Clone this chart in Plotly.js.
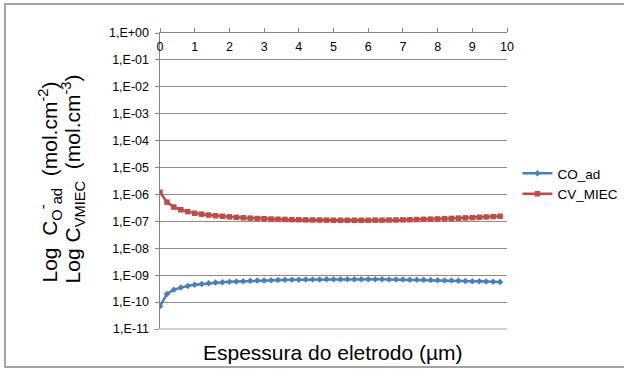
<!DOCTYPE html>
<html>
<head>
<meta charset="utf-8">
<script src="https://cdn.plot.ly/plotly-3.0.1.min.js"></script>
<style>html,body{margin:0;padding:0;background:#fff;}#chart{width:624px;height:369px;}</style>
</head>
<body>
<div id="chart"></div>
<script>
const thickness = [0,0.2,0.4,0.6,0.8,1.0,1.2,1.4,1.6,1.8,2.0,2.2,2.4,2.6,2.8,3.0,3.2,3.4,3.6,3.8,4.0,4.2,4.4,4.6,4.8,5.0,5.2,5.4,5.6,5.8,6.0,6.2,6.4,6.6,6.8,7.0,7.2,7.4,7.6,7.8,8.0,8.2,8.4,8.6,8.8,9.0,9.2,9.4,9.6,9.8];
const coAd = [7.0e-11,2.0e-10,2.9e-10,3.5e-10,4.0e-10,4.4e-10,4.7e-10,5.0e-10,5.3e-10,5.5e-10,5.7e-10,5.85e-10,6.0e-10,6.15e-10,6.3e-10,6.4e-10,6.5e-10,6.6e-10,6.7e-10,6.75e-10,6.8e-10,6.85e-10,6.9e-10,6.95e-10,7.0e-10,7.0e-10,7.05e-10,7.05e-10,7.05e-10,7.05e-10,7.0e-10,7.0e-10,7.0e-10,6.95e-10,6.9e-10,6.85e-10,6.8e-10,6.75e-10,6.7e-10,6.6e-10,6.5e-10,6.4e-10,6.3e-10,6.2e-10,6.1e-10,6.0e-10,5.9e-10,5.8e-10,5.7e-10,5.6e-10];
const cvMiec = [1.2e-6,5.2e-7,3.4e-7,2.7e-7,2.3e-7,2.0e-7,1.85e-7,1.72e-7,1.62e-7,1.54e-7,1.47e-7,1.41e-7,1.36e-7,1.32e-7,1.28e-7,1.25e-7,1.22e-7,1.2e-7,1.18e-7,1.16e-7,1.15e-7,1.14e-7,1.13e-7,1.12e-7,1.11e-7,1.1e-7,1.1e-7,1.1e-7,1.1e-7,1.1e-7,1.1e-7,1.11e-7,1.11e-7,1.12e-7,1.13e-7,1.14e-7,1.15e-7,1.17e-7,1.19e-7,1.21e-7,1.23e-7,1.26e-7,1.29e-7,1.32e-7,1.35e-7,1.38e-7,1.42e-7,1.46e-7,1.5e-7,1.55e-7];
const seriesNames = ['CO_ad','CV_MIEC'];
const yTickVals = [1e0,1e-1,1e-2,1e-3,1e-4,1e-5,1e-6,1e-7,1e-8,1e-9,1e-10,1e-11];
const yTickText = ['1,E+00','1,E-01','1,E-02','1,E-03','1,E-04','1,E-05','1,E-06','1,E-07','1,E-08','1,E-09','1,E-10','1,E-11'];
const xTickVals = [0,1,2,3,4,5,6,7,8,9,10];

const FONT = 'Liberation Sans, Arial, sans-serif';
const traces = [
  {x: thickness, y: coAd, name: seriesNames[0], type: 'scatter', mode: 'lines+markers',
   line: {color: '#4a7ebb', width: 2.5}, marker: {symbol: 'diamond', size: 5, color: '#4a7ebb'}},
  {x: thickness, y: cvMiec, name: seriesNames[1], type: 'scatter', mode: 'lines+markers',
   line: {color: '#be4b48', width: 2.5}, marker: {symbol: 'square', size: 5.5, color: '#be4b48'}}
];
const layout = {
  width: 624, height: 369,
  margin: {l: 160, r: 117, t: 33, b: 40, autoexpand: false},
  paper_bgcolor: '#ffffff', plot_bgcolor: '#ffffff',
  font: {family: FONT, size: 12, color: '#000'},
  showlegend: true,
  legend: {x: 1.03, y: 0.49, xanchor: 'left', yanchor: 'middle', font: {family: FONT, size: 13.5, color: '#000'}, bgcolor: 'rgba(0,0,0,0)', tracegroupgap: 0},
  xaxis: {range: [0, 10], side: 'top', tickvals: xTickVals, ticks: 'outside', ticklen: 4, tickcolor: '#868686',
          ticklabelposition: 'inside', ticklabeloverflow: 'allow', ticklabelstandoff: 9,
          showline: true, linecolor: '#868686', linewidth: 1.5, showgrid: false, zeroline: false,
          tickfont: {family: FONT, size: 12.5, color: '#000'}},
  yaxis: {type: 'log', range: [-11, 0], tickvals: yTickVals, ticktext: yTickText, ticks: 'outside', ticklen: 4, tickcolor: '#868686',
          ticklabeloverflow: 'allow', ticklabelstandoff: 3,
          showline: true, linecolor: '#868686', linewidth: 1.5, showgrid: true, gridcolor: '#8c8c8c', gridwidth: 1, zeroline: false,
          tickfont: {family: FONT, size: 12.5, color: '#000'}},
  annotations: [
    {xref: 'paper', yref: 'paper', x: -0.317, y: 0.1486, xanchor: 'center', yanchor: 'bottom', textangle: -90, showarrow: false,
     text: 'Log  C<sub>O</sub><sup>-</sup><sub>ad</sub>  (mol.cm<sup>-2</sup>)',
     font: {family: FONT, size: 21, color: '#000'}},
    {xref: 'paper', yref: 'paper', x: -0.251, y: 0.1486, xanchor: 'center', yanchor: 'bottom', textangle: -90, showarrow: false,
     text: 'Log C<sub>VMIEC</sub>  (mol.cm<sup>-3</sup>)',
     font: {family: FONT, size: 21, color: '#000'}},
    {xref: 'paper', yref: 'paper', x: 0.4986, y: -0.078, xanchor: 'center', yanchor: 'middle', showarrow: false,
     text: 'Espessura do eletrodo (µm)', font: {family: FONT, size: 21, color: '#000'}}
  ],
  shapes: [
    {type: 'rect', xref: 'paper', yref: 'paper', x0: -0.4467, x1: 1.36, y0: -0.1284, y1: 1.098,
     line: {color: '#868686', width: 1.5}, fillcolor: 'rgba(0,0,0,0)', layer: 'below'},
    {type: 'line', xref: 'paper', yref: 'paper', x0: 0, x1: 1, y0: 0, y1: 0, line: {color: '#a0a0a0', width: 1}, layer: 'below'}
  ]
};
Plotly.newPlot('chart', traces, layout, {displayModeBar: false, staticPlot: true});
</script>
</body>
</html>
